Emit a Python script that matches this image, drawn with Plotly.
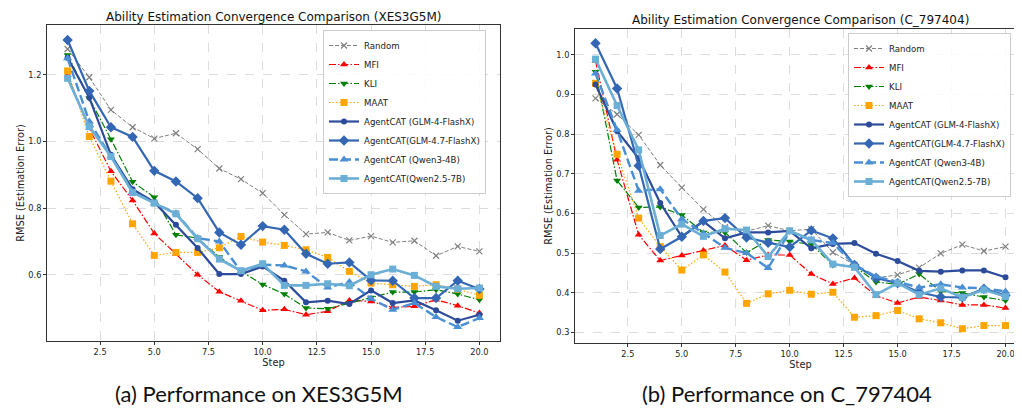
import plotly.graph_objects as go

steps = list(range(1, 21))

# (a) XES3G5M
random_a = [1.278,1.193,1.095,1.043,1.009,1.025,0.977,0.919,0.887,0.845,0.780,0.722,0.727,0.703,0.716,0.697,0.702,0.657,0.685,0.670]
mfi_a    = [1.200,1.040,0.911,0.823,0.724,0.662,0.600,0.549,0.522,0.493,0.496,0.480,0.490,0.523,0.520,0.502,0.505,0.525,0.507,0.485]
kli_a    = [1.260,1.130,1.007,0.879,0.833,0.720,0.710,0.653,0.610,0.571,0.542,0.500,0.498,0.515,0.532,0.548,0.548,0.555,0.542,0.525]
maat_a   = [1.212,1.015,0.881,0.753,0.658,0.667,0.667,0.681,0.715,0.698,0.688,0.675,0.652,0.610,0.575,0.570,0.565,0.570,0.557,0.538]
glm4_a   = [1.252,1.132,0.960,0.857,0.818,0.750,0.680,0.602,0.602,0.625,0.582,0.517,0.522,0.512,0.553,0.515,0.523,0.493,0.462,0.480]
glm47_a  = [1.305,1.152,1.043,1.014,0.912,0.880,0.830,0.727,0.690,0.746,0.735,0.663,0.633,0.637,0.583,0.582,0.530,0.530,0.582,0.557]
qwen3_a  = [1.250,1.060,0.955,0.850,0.815,0.785,0.710,0.700,0.610,0.630,0.628,0.610,0.562,0.578,0.528,0.495,0.515,0.473,0.443,0.470]
qwen25_a = [1.190,1.045,0.955,0.847,0.815,0.783,0.708,0.647,0.612,0.633,0.568,0.568,0.573,0.567,0.600,0.617,0.598,0.565,0.558,0.560]

# (b) C_797404
random_b = [0.890,0.850,0.798,0.722,0.665,0.610,0.565,0.555,0.569,0.556,0.560,0.502,0.470,0.437,0.445,0.463,0.499,0.521,0.505,0.516]
mfi_b    = [0.985,0.735,0.546,0.481,0.494,0.506,0.519,0.482,0.495,0.495,0.447,0.422,0.437,0.392,0.374,0.389,0.380,0.369,0.369,0.361]
kli_b    = [0.957,0.683,0.615,0.616,0.596,0.552,0.552,0.501,0.533,0.529,0.522,0.470,0.466,0.427,0.421,0.447,0.403,0.399,0.389,0.380]
maat_b   = [0.928,0.749,0.588,0.516,0.457,0.495,0.452,0.373,0.397,0.406,0.396,0.401,0.338,0.342,0.355,0.334,0.324,0.309,0.317,0.317]
glm4_b   = [0.925,0.808,0.739,0.626,0.541,0.580,0.537,0.552,0.552,0.556,0.512,0.523,0.525,0.498,0.480,0.455,0.453,0.456,0.456,0.439]
glm47_b  = [1.029,0.915,0.720,0.510,0.541,0.581,0.588,0.539,0.526,0.515,0.557,0.537,0.470,0.437,0.424,0.401,0.389,0.388,0.410,0.393]
qwen3_b  = [0.953,0.810,0.657,0.661,0.586,0.550,0.513,0.500,0.462,0.554,0.533,0.525,0.470,0.441,0.427,0.413,0.421,0.413,0.411,0.403]
qwen25_b = [0.989,0.872,0.760,0.544,0.573,0.542,0.561,0.558,0.491,0.556,0.533,0.472,0.464,0.395,0.424,0.395,0.411,0.388,0.407,0.390]

names = ["Random", "MFI", "KLI", "MAAT", "AgentCAT (GLM-4-FlashX)",
         "AgentCAT(GLM-4.7-FlashX)", "AgentCAT (Qwen3-4B)", "AgentCAT(Qwen2.5-7B)"]
series_a = [random_a, mfi_a, kli_a, maat_a, glm4_a, glm47_a, qwen3_a, qwen25_a]
series_b = [random_b, mfi_b, kli_b, maat_b, glm4_b, glm47_b, qwen3_b, qwen25_b]

styles = [
    dict(color="#808080", width=1.0, dash="4px,2px", symbol="x-thin", size=6, mlw=1.2),
    dict(color="#ff0000", width=1.2, dash="7px,2px,1.5px,2px", symbol="triangle-up", size=7, mlw=0),
    dict(color="#008000", width=1.2, dash="7px,2px,1.5px,2px", symbol="triangle-down", size=7, mlw=0),
    dict(color="#ffa500", width=1.2, dash="1.5px,2px", symbol="square", size=7, mlw=0),
    dict(color="#2c4b9b", width=2.2, dash="solid", symbol="circle", size=6, mlw=0),
    dict(color="#3467b3", width=2.2, dash="solid", symbol="diamond", size=8, mlw=0),
    dict(color="#4a8fd4", width=2.4, dash="9px,4px", symbol="triangle-up", size=8, mlw=0),
    dict(color="#6baed6", width=2.6, dash="solid", symbol="square", size=7, mlw=0),
]

fig = go.Figure()
for series, xa, ya, lg in [(series_a, "x", "y", "legend"), (series_b, "x2", "y2", "legend2")]:
    for name, vals, st in zip(names, series, styles):
        marker = dict(symbol=st["symbol"], size=st["size"], color=st["color"])
        if st["mlw"]:
            marker["line"] = dict(color=st["color"], width=st["mlw"])
        fig.add_trace(go.Scatter(
            x=steps, y=vals, name=name, mode="lines+markers",
            line=dict(color=st["color"], width=st["width"], dash=st["dash"]),
            marker=marker, xaxis=xa, yaxis=ya, legend=lg))

FONT = "DejaVu Sans"
axis_common = dict(
    showline=True, mirror=True, linecolor="#333333", linewidth=1,
    showgrid=True, gridcolor="#dcdcdc", griddash="dash", gridwidth=0.8,
    zeroline=False, ticks="outside", ticklen=3, tickcolor="#333333",
    tickfont=dict(family=FONT, size=8.2, color="#222222"),
)
title_font = dict(family=FONT, size=9.8, color="#222222")

fig.update_layout(
    width=1022, height=410,
    margin=dict(l=0, r=0, t=0, b=0),
    paper_bgcolor="white", plot_bgcolor="white",
    font=dict(family=FONT, color="#222222"),
    xaxis=dict(domain=[39/1022, 492/1022], anchor="y", range=[0.05, 20.95],
               tick0=0, dtick=2.5, tickformat=".1f",
               title=dict(text="Step", font=title_font, standoff=3), **axis_common),
    yaxis=dict(domain=[1-333/410, 1-17/410], anchor="x", range=[0.401, 1.35],
               tick0=0, dtick=0.2, tickformat=".1f",
               title=dict(text="RMSE (Estimation Error)", font=title_font, standoff=1), **axis_common),
    xaxis2=dict(domain=[567/1022, 1018/1022], anchor="y2", range=[0.05, 20.95],
                tick0=0, dtick=2.5, tickformat=".1f",
                title=dict(text="Step", font=title_font, standoff=3), **axis_common),
    yaxis2=dict(domain=[1-335/410, 1-21/410], anchor="x2", range=[0.273, 1.065],
                tick0=0, dtick=0.1, tickformat=".1f",
                title=dict(text="RMSE (Estimation Error)", font=title_font, standoff=1), **axis_common),
    legend=dict(x=478/1022, y=1-22/410, xanchor="right", yanchor="top",
                bgcolor="rgba(255,255,255,0.85)", bordercolor="#cccccc", borderwidth=1,
                font=dict(family=FONT, size=8.6), tracegroupgap=0, itemwidth=30),
    legend2=dict(x=1003/1022, y=1-25/410, xanchor="right", yanchor="top",
                 bgcolor="rgba(255,255,255,0.85)", bordercolor="#cccccc", borderwidth=1,
                 font=dict(family=FONT, size=8.6), tracegroupgap=0, itemwidth=30),
    annotations=[
        dict(text="Ability Estimation Convergence Comparison (XES3G5M)", x=265.5/1022, y=1-9/410,
             xref="paper", yref="paper", showarrow=False, xanchor="center", yanchor="middle",
             font=dict(family=FONT, size=12, color="#111111")),
        dict(text="Ability Estimation Convergence Comparison (C_797404)", x=792.5/1022, y=1-12/410,
             xref="paper", yref="paper", showarrow=False, xanchor="center", yanchor="middle",
             font=dict(family=FONT, size=12, color="#111111")),
        dict(text="(a) Performance on XES3G5M", x=251/1022, y=1-385/410,
             xref="paper", yref="paper", showarrow=False, xanchor="center", yanchor="middle",
             font=dict(family="Lato", size=22, color="#111111")),
        dict(text="(b) Performance on C_797404", x=779/1022, y=1-385/410,
             xref="paper", yref="paper", showarrow=False, xanchor="center", yanchor="middle",
             font=dict(family="Lato", size=22, color="#111111")),
    ],
)

fig.write_html("out.html")
